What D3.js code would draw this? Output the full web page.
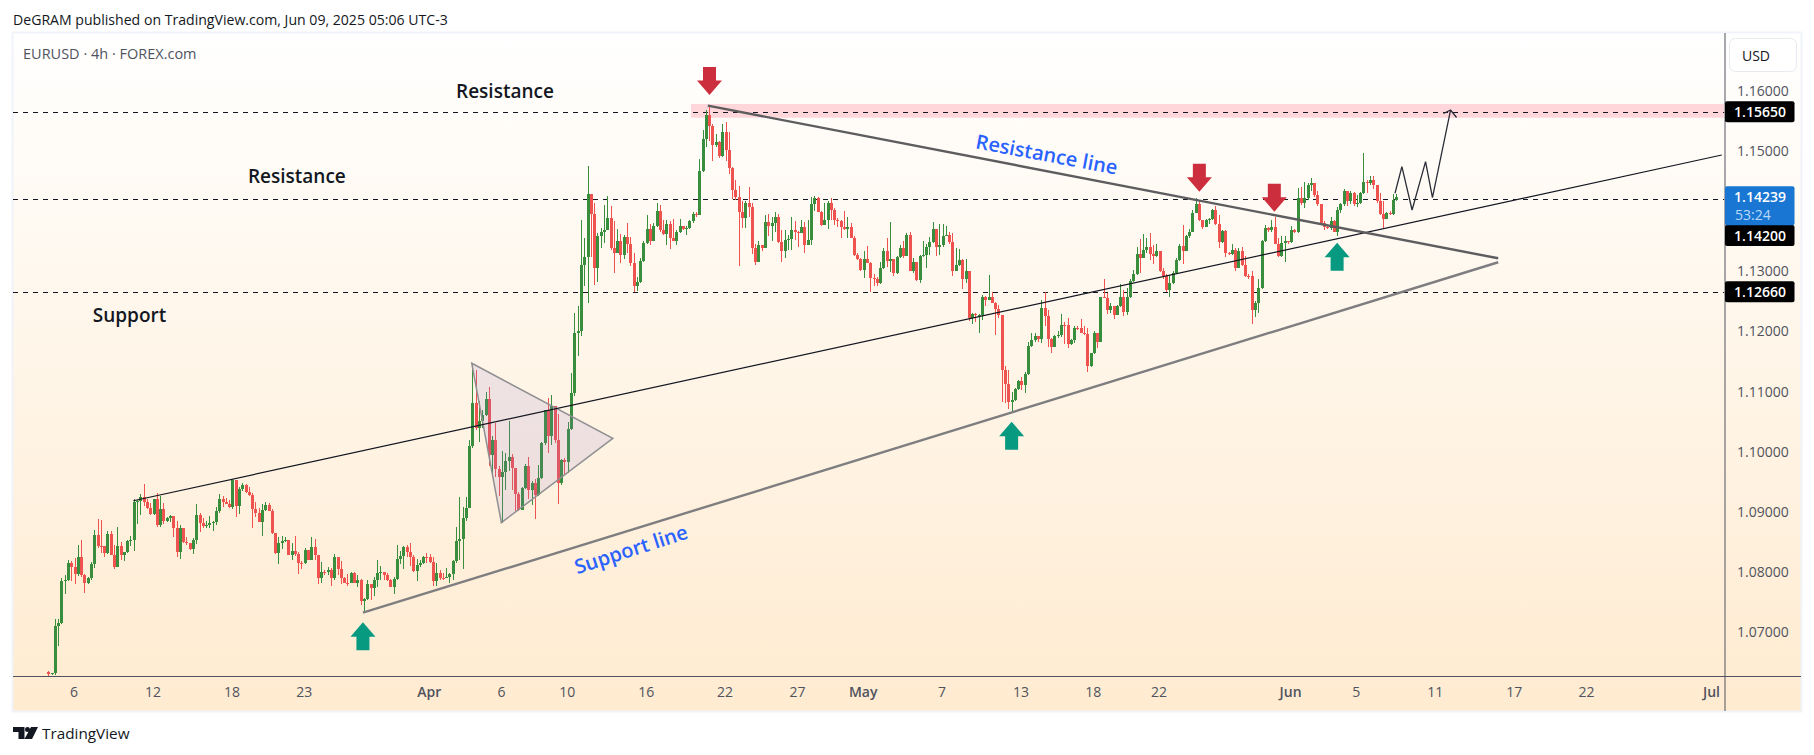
<!DOCTYPE html>
<html><head><meta charset="utf-8">
<script src="https://cdnjs.cloudflare.com/ajax/libs/d3/7.8.5/d3.min.js"></script>
<style>html,body{margin:0;padding:0;background:#fff}svg{display:block}</style>
</head><body><svg id="c" width="1814" height="755"></svg>
<script>
const closes=[1.0631,1.0632,1.0711,1.0715,1.0786,1.0788,1.0816,1.0809,1.0798,1.0825,1.0796,1.0783,1.0791,1.0814,1.0862,1.0844,1.0843,1.0832,1.0864,1.0829,1.0809,1.0844,1.0829,1.0833,1.0852,1.0854,1.0917,1.0919,1.0925,1.0917,1.0907,1.0897,1.0922,1.0878,1.0905,1.0886,1.0891,1.0894,1.0873,1.0833,1.0873,1.0850,1.0848,1.0839,1.0854,1.0895,1.0882,1.0877,1.0879,1.0882,1.0884,1.0902,1.0922,1.0917,1.0914,1.0908,1.0953,1.0910,1.0939,1.0945,1.0934,1.0928,1.0905,1.0899,1.0884,1.0904,1.0912,1.0901,
1.0865,1.0832,1.0849,1.0852,1.0854,1.0829,1.0836,1.0830,1.0816,1.0815,1.0837,1.0821,1.0842,1.0829,1.0791,1.0801,1.0800,1.0804,1.0790,1.0826,1.0806,1.0790,1.0783,1.0782,1.0799,1.0783,1.0788,1.0753,1.0756,1.0781,1.0774,1.0788,1.0799,1.0800,1.0796,1.0788,1.0776,1.0789,1.0822,1.0827,1.0842,1.0833,1.0826,1.0802,1.0812,1.0816,1.0826,1.0825,1.0817,1.0786,1.0799,1.0791,1.0790,1.0792,1.0797,1.0819,1.0852,1.0855,1.0891,1.0907,1.1010,1.1082,1.1040,1.1052,1.1062,1.1088,1.0995,1.1020,1.0971,1.0959,
1.0966,1.0985,1.0991,1.0973,1.0930,1.0904,1.0940,1.0977,1.0936,1.0948,1.0929,1.0957,1.1015,1.1069,1.1027,1.1077,1.1019,1.0948,1.0987,1.0983,1.1038,1.1098,1.1197,1.1201,1.1311,1.1324,1.1429,1.1396,1.1306,1.1359,1.1365,1.1369,1.1389,1.1338,1.1331,1.1351,1.1327,1.1357,1.1346,1.1314,1.1275,1.1283,1.1317,1.1347,1.1370,1.1351,1.1376,1.1400,1.1368,1.1362,1.1378,1.1356,1.1351,1.1365,1.1376,1.1370,1.1372,1.1384,1.1395,1.1394,1.1466,1.1519,1.1560,1.1542,1.1509,1.1515,1.1491,1.1531,1.1501,1.1471,
1.1435,1.1423,1.1398,1.1389,1.1413,1.1407,1.1339,1.1315,1.1344,1.1339,1.1382,1.1376,1.1381,1.1390,1.1348,1.1334,1.1352,1.1353,1.1368,1.1366,1.1364,1.1374,1.1343,1.1352,1.1412,1.1421,1.1399,1.1377,1.1386,1.1414,1.1402,1.1386,1.1383,1.1373,1.1371,1.1374,1.1356,1.1327,1.1321,1.1302,1.1321,1.1314,1.1289,1.1288,1.1281,1.1306,1.1334,1.1317,1.1320,1.1298,1.1323,1.1338,1.1326,1.1361,1.1301,1.1316,1.1286,1.1325,1.1327,1.1340,1.1348,1.1370,1.1341,1.1343,1.1359,1.1360,1.1348,1.1301,1.1310,1.1319,
1.1287,1.1300,1.1222,1.1229,1.1227,1.1228,1.1258,1.1252,1.1258,1.1248,1.1238,1.1227,1.1136,1.1113,1.1083,1.1086,1.1104,1.1118,1.1111,1.1130,1.1176,1.1186,1.1192,1.1187,1.1239,1.1225,1.1187,1.1175,1.1193,1.1194,1.1211,1.1210,1.1179,1.1186,1.1206,1.1205,1.1198,1.1196,1.1143,1.1164,1.1198,1.1182,1.1257,1.1256,1.1235,1.1242,1.1227,1.1242,1.1258,1.1233,1.1257,1.1284,1.1295,1.1328,1.1322,1.1335,1.1340,1.1329,1.1326,1.1334,1.1300,1.1293,1.1269,1.1280,1.1297,1.1319,1.1342,1.1334,1.1359,1.1366,
1.1397,1.1411,1.1385,1.1374,1.1385,1.1387,1.1401,1.1379,1.1348,1.1367,1.1330,1.1328,1.1336,1.1305,1.1333,1.1311,1.1293,1.1292,1.1235,1.1248,1.1272,1.1351,1.1372,1.1369,1.1373,1.1346,1.1325,1.1347,1.1350,1.1348,1.1369,1.1365,1.1422,1.1413,1.1421,1.1444,1.1447,1.1426,1.1411,1.1380,1.1373,1.1372,1.1384,1.1366,1.1401,1.1411,1.1434,1.1417,1.1430,1.1411,1.1413,1.1430,1.1448,1.1447,1.1452,1.1443,1.1416,1.1396,1.1387,1.1397,1.1396,1.1419,1.14239];
const highs=[1.0636,1.0632,1.0722,1.0722,1.0790,1.0796,1.0820,1.0819,1.0823,1.0845,1.0854,1.0797,1.0792,1.0817,1.0871,1.0888,1.0887,1.0844,1.0868,1.0869,1.0846,1.0875,1.0850,1.0834,1.0854,1.0861,1.0921,1.0920,1.0930,1.0947,1.0921,1.0915,1.0922,1.0931,1.0927,1.0915,1.0892,1.0895,1.0894,1.0885,1.0879,1.0873,1.0859,1.0848,1.0857,1.0914,1.0898,1.0891,1.0886,1.0894,1.0886,1.0909,1.0930,1.0927,1.0923,1.0920,1.0955,1.0953,1.0941,1.0948,1.0947,1.0942,1.0932,1.0916,1.0906,1.0914,1.0916,1.0915,
1.0905,1.0866,1.0858,1.0860,1.0858,1.0854,1.0849,1.0861,1.0833,1.0818,1.0841,1.0837,1.0858,1.0855,1.0829,1.0817,1.0804,1.0809,1.0807,1.0831,1.0826,1.0818,1.0793,1.0797,1.0800,1.0801,1.0796,1.0789,1.0757,1.0788,1.0781,1.0793,1.0821,1.0811,1.0800,1.0799,1.0789,1.0793,1.0846,1.0835,1.0843,1.0846,1.0848,1.0829,1.0822,1.0821,1.0827,1.0832,1.0831,1.0825,1.0816,1.0804,1.0799,1.0807,1.0799,1.0821,1.0875,1.0925,1.0908,1.0925,1.1020,1.1148,1.1136,1.1084,1.1070,1.1100,1.1108,1.1026,1.1048,1.0976,
1.1002,1.0998,1.1051,1.0996,1.0974,1.0933,1.0941,1.0980,1.0991,1.0952,1.0955,1.0979,1.1016,1.1070,1.1089,1.1095,1.1077,1.1063,1.0988,1.0990,1.1049,1.1131,1.1230,1.1243,1.1386,1.1355,1.1475,1.1429,1.1414,1.1364,1.1372,1.1410,1.1425,1.1409,1.1383,1.1370,1.1362,1.1360,1.1380,1.1357,1.1330,1.1291,1.1322,1.1350,1.1394,1.1379,1.1380,1.1414,1.1410,1.1386,1.1386,1.1383,1.1387,1.1368,1.1387,1.1373,1.1376,1.1386,1.1398,1.1398,1.1486,1.1534,1.1568,1.1576,1.1545,1.1528,1.1516,1.1545,1.1548,1.1531,
1.1474,1.1452,1.1442,1.1417,1.1417,1.1440,1.1414,1.1346,1.1350,1.1344,1.1394,1.1396,1.1390,1.1399,1.1396,1.1369,1.1368,1.1360,1.1390,1.1383,1.1367,1.1385,1.1382,1.1385,1.1423,1.1425,1.1423,1.1400,1.1414,1.1416,1.1421,1.1405,1.1388,1.1386,1.1400,1.1391,1.1380,1.1358,1.1330,1.1322,1.1333,1.1342,1.1316,1.1295,1.1290,1.1316,1.1338,1.1355,1.1382,1.1321,1.1326,1.1344,1.1350,1.1364,1.1365,1.1322,1.1316,1.1327,1.1351,1.1345,1.1357,1.1382,1.1371,1.1378,1.1378,1.1375,1.1366,1.1363,1.1338,1.1337,
1.1320,1.1320,1.1300,1.1230,1.1230,1.1229,1.1261,1.1259,1.1294,1.1266,1.1249,1.1244,1.1227,1.1142,1.1136,1.1100,1.1106,1.1119,1.1124,1.1133,1.1182,1.1198,1.1197,1.1193,1.1252,1.1266,1.1236,1.1189,1.1194,1.1200,1.1229,1.1215,1.1223,1.1187,1.1209,1.1209,1.1220,1.1209,1.1205,1.1165,1.1200,1.1198,1.1258,1.1288,1.1264,1.1247,1.1242,1.1244,1.1279,1.1269,1.1272,1.1287,1.1302,1.1341,1.1353,1.1362,1.1355,1.1363,1.1344,1.1345,1.1334,1.1305,1.1296,1.1294,1.1300,1.1322,1.1346,1.1377,1.1360,1.1371,
1.1402,1.1421,1.1419,1.1386,1.1387,1.1388,1.1403,1.1409,1.1394,1.1369,1.1368,1.1332,1.1345,1.1339,1.1339,1.1341,1.1326,1.1296,1.1300,1.1250,1.1287,1.1352,1.1377,1.1373,1.1386,1.1390,1.1355,1.1359,1.1359,1.1351,1.1376,1.1370,1.1438,1.1440,1.1449,1.1447,1.1455,1.1447,1.1433,1.1412,1.1383,1.1377,1.1391,1.1385,1.1407,1.1413,1.1436,1.1434,1.1433,1.1431,1.1427,1.1431,1.1496,1.1452,1.1458,1.1459,1.1441,1.1430,1.1416,1.1398,1.1400,1.1428,1.1428];
const lows=[1.0627,1.0629,1.0629,1.0677,1.0714,1.0764,1.0786,1.0785,1.0781,1.0794,1.0793,1.0766,1.0781,1.0787,1.0807,1.0840,1.0832,1.0825,1.0830,1.0829,1.0806,1.0809,1.0820,1.0818,1.0832,1.0844,1.0835,1.0880,1.0895,1.0910,1.0905,1.0895,1.0895,1.0876,1.0876,1.0881,1.0883,1.0884,1.0858,1.0825,1.0822,1.0848,1.0845,1.0837,1.0831,1.0847,1.0867,1.0874,1.0873,1.0873,1.0869,1.0879,1.0899,1.0909,1.0913,1.0906,1.0905,1.0892,1.0897,1.0935,1.0931,1.0927,1.0874,1.0892,1.0883,1.0861,1.0901,1.0901,
1.0864,1.0831,1.0814,1.0839,1.0851,1.0828,1.0821,1.0827,1.0798,1.0805,1.0813,1.0820,1.0820,1.0821,1.0781,1.0783,1.0796,1.0795,1.0778,1.0788,1.0796,1.0781,1.0782,1.0778,1.0782,1.0782,1.0776,1.0746,1.0733,1.0754,1.0754,1.0761,1.0776,1.0788,1.0788,1.0785,1.0775,1.0764,1.0788,1.0814,1.0805,1.0826,1.0811,1.0801,1.0785,1.0809,1.0813,1.0816,1.0815,1.0778,1.0778,1.0788,1.0788,1.0790,1.0782,1.0788,1.0816,1.0821,1.0805,1.0886,1.0907,1.1006,1.1037,1.1017,1.1040,1.1059,1.0977,1.0965,1.0959,1.0926,
1.0882,1.0936,1.0969,1.0936,1.0901,1.0901,1.0904,1.0938,1.0922,1.0912,1.0889,1.0926,1.0955,1.1012,1.0999,1.1011,1.1015,1.0914,1.0945,1.0962,1.0965,1.1037,1.1093,1.1160,1.1192,1.1276,1.1248,1.1324,1.1278,1.1283,1.1339,1.1347,1.1368,1.1336,1.1298,1.1330,1.1314,1.1320,1.1330,1.1309,1.1265,1.1268,1.1281,1.1316,1.1346,1.1343,1.1350,1.1373,1.1366,1.1361,1.1344,1.1337,1.1350,1.1343,1.1363,1.1369,1.1361,1.1370,1.1381,1.1391,1.1394,1.1465,1.1507,1.1517,1.1484,1.1507,1.1488,1.1490,1.1484,1.1462,
1.1420,1.1419,1.1309,1.1372,1.1372,1.1390,1.1329,1.1311,1.1315,1.1333,1.1339,1.1359,1.1350,1.1366,1.1347,1.1316,1.1322,1.1336,1.1335,1.1352,1.1341,1.1363,1.1331,1.1343,1.1344,1.1400,1.1399,1.1376,1.1377,1.1371,1.1386,1.1377,1.1374,1.1356,1.1369,1.1355,1.1355,1.1326,1.1318,1.1300,1.1289,1.1313,1.1265,1.1276,1.1276,1.1279,1.1304,1.1307,1.1299,1.1292,1.1296,1.1322,1.1322,1.1326,1.1300,1.1298,1.1284,1.1280,1.1323,1.1306,1.1327,1.1347,1.1326,1.1327,1.1341,1.1358,1.1346,1.1292,1.1301,1.1309,
1.1271,1.1280,1.1218,1.1213,1.1215,1.1198,1.1219,1.1242,1.1252,1.1247,1.1195,1.1223,1.1083,1.1082,1.1072,1.1065,1.1085,1.1102,1.1102,1.1098,1.1128,1.1175,1.1183,1.1182,1.1181,1.1209,1.1175,1.1164,1.1174,1.1190,1.1191,1.1179,1.1173,1.1178,1.1181,1.1202,1.1197,1.1195,1.1132,1.1141,1.1162,1.1173,1.1182,1.1256,1.1229,1.1230,1.1220,1.1227,1.1240,1.1225,1.1227,1.1255,1.1282,1.1294,1.1297,1.1322,1.1330,1.1318,1.1312,1.1324,1.1299,1.1288,1.1266,1.1257,1.1279,1.1295,1.1317,1.1312,1.1333,1.1355,
1.1365,1.1397,1.1383,1.1371,1.1373,1.1379,1.1385,1.1377,1.1338,1.1347,1.1324,1.1327,1.1327,1.1300,1.1305,1.1309,1.1291,1.1287,1.1212,1.1224,1.1231,1.1270,1.1349,1.1365,1.1365,1.1345,1.1324,1.1324,1.1315,1.1346,1.1347,1.1363,1.1363,1.1410,1.1405,1.1418,1.1433,1.1424,1.1408,1.1378,1.1368,1.1370,1.1369,1.1365,1.1359,1.1397,1.1408,1.1408,1.1411,1.1409,1.1407,1.1412,1.1429,1.1430,1.1444,1.1436,1.1413,1.1394,1.1372,1.1387,1.1394,1.1394,1.1416];
const firstOpen=1.0634;
const opens=closes.map((c,i)=>i?closes[i-1]:firstOpen);
const priceTicks=[1.16,1.15,1.13,1.12,1.11,1.10,1.09,1.08,1.07];
const timeTickBars=[8,32,56,78,116,138,158,182,206,228,248,272,296,318,338,378,398,422,446,468,506];
const timeTickLabels=["6","12","18","23","Apr","6","10","16","22","27","May","7","13","18","22","Jun","5","11","17","22","Jul"];
const monthLabels=["Apr","May","Jun","Jul"];
const levels=[1.1565,1.1420,1.1266];
const zoneBars=[195.5];
const zonePrices=[1.15779,1.15551];
const resistanceLine=[[200.6,1.15751],[441,1.13216]];
const supportLine=[[95.7,1.07329],[441,1.1315]];
const midLine=[[25.85,1.09189],[509,1.14932]];
const triangle=[[128.8,1.11472],[171.7,1.10226],[137.8,1.08824]];
const projection=[[409.6,1.14296],[411.7,1.14738],[414.8,1.14018],[418.9,1.14821],[421,1.14223],[426.5,1.15679]];
const downArrows=[[201.1,1.15929],[350.1,1.14322],[372.9,1.1399]];
const upArrows=[[95.7,1.0717],[293,1.10502],[392,1.13475]];
const blackNotes=[["Resistance",138.9,1.15995],["Resistance",75.6,1.14575],["Support",24.7,1.12279]];
const blueNotes=[["Resistance line",303.7,1.14948,10.6],["Support line",177.2,1.08387,-18]];
// the 1.14200 badge sits displaced below the last-price badge on the price axis
const priceBadges=[["1.15650",1.1565],["1.14200",1.13595],["1.12660",1.1266]];
const lastPrice=1.14239, countdown="53:24";

const svg=d3.select("#c");
const L=13,R=1801,T=33,B=711,PR=1724.5,PB=676;
const lastIdx=closes.length-1;
const x=d3.scaleLinear([0,lastIdx],[48.3,1396.3]);
const y=d3.scaleLinear([1.07,1.16],[632.5,90.7]);
const FONT="'Open Sans',sans-serif";

const defs=svg.append("defs");
const g=defs.append("linearGradient").attr("id","bg").attr("x1",0).attr("x2",0).attr("y1",0).attr("y2",1);
g.append("stop").attr("offset",0).attr("stop-color","#ffffff");
g.append("stop").attr("offset",1).attr("stop-color","#ffebd0");
defs.append("clipPath").attr("id","pane").append("rect").attr("x",L).attr("y",T).attr("width",PR-L).attr("height",PB-T);

svg.append("rect").attr("x",L-0.5).attr("y",T-0.5).attr("width",R-L+1).attr("height",B-T+1).attr("fill","url(#bg)").attr("stroke","#f0f3fa").attr("stroke-width",2);

svg.append("text").text("DeGRAM published on TradingView.com, Jun 09, 2025 05:06 UTC-3").attr("x",13).attr("y",25).attr("font-family",FONT).attr("font-size",14.1).attr("fill","#131722");
svg.append("text").text("EURUSD · 4h · FOREX.com").attr("x",23).attr("y",59).attr("font-family",FONT).attr("font-size",14.5).attr("fill","#50535e");

const pane=svg.append("g").attr("clip-path","url(#pane)");
pane.append("rect").attr("x",x(zoneBars[0])).attr("y",y(zonePrices[0])).attr("width",PR-x(zoneBars[0])).attr("height",y(zonePrices[1])-y(zonePrices[0])).attr("fill","#ffd6d9");
pane.selectAll("line.lv").data(levels).join("line").attr("class","lv").attr("x1",L).attr("x2",PR).attr("y1",d=>Math.round(y(d))+.5).attr("y2",d=>Math.round(y(d))+.5).attr("stroke","#131722").attr("stroke-dasharray","5 5").attr("stroke-width",1);

const bars=closes.map((c,i)=>({i,o:opens[i],c,h:highs[i],l:lows[i]}));
const col=d=>d.c>d.o?"#388e3c":"#ef5350";
pane.selectAll("rect.w").data(bars).join("rect").attr("class","w").attr("x",d=>Math.round(x(d.i))).attr("width",1)
 .attr("y",d=>Math.round(y(d.h))).attr("height",d=>Math.max(1,Math.round(y(d.l))-Math.round(y(d.h)))).attr("fill",col);
pane.selectAll("rect.b").data(bars).join("rect").attr("class","b").attr("x",d=>Math.round(x(d.i))-1).attr("width",3)
 .attr("y",d=>Math.round(y(Math.max(d.o,d.c)))).attr("height",d=>Math.max(1,Math.round(y(Math.min(d.o,d.c)))-Math.round(y(Math.max(d.o,d.c))))).attr("fill",col);

const pt=p=>[x(p[0]),y(p[1])];
pane.append("path").attr("d",d3.line()(triangle.map(pt))+"Z").attr("fill","#8d7bd0").attr("fill-opacity",.15).attr("stroke","#8f8f92").attr("stroke-width",1.5);
pane.append("path").attr("d",d3.line()(midLine.map(pt))).attr("fill","none").attr("stroke","#131722").attr("stroke-width",1.2);
pane.append("path").attr("d",d3.line()(resistanceLine.map(pt))).attr("fill","none").attr("stroke","#5d5d60").attr("stroke-width",2.4);
pane.append("path").attr("d",d3.line()(supportLine.map(pt))).attr("fill","none").attr("stroke","#7e7e80").attr("stroke-width",2.4);
pane.append("path").attr("d",d3.line()(projection.map(pt))).attr("fill","none").attr("stroke","#2a2e39").attr("stroke-width",1.3);
const tip=pt(projection[projection.length-1]);
pane.append("path").attr("d",`M${tip[0]-7},${tip[1]+3.5}L${tip[0]},${tip[1]}L${tip[0]+6},${tip[1]+7.5}`).attr("fill","none").attr("stroke","#2a2e39").attr("stroke-width",1.3);

const arrowShape=[[0,0],[12.5,-14.5],[6.5,-14.5],[6.5,-28],[-6.5,-28],[-6.5,-14.5],[-12.5,-14.5]];
pane.selectAll("path.dn").data(downArrows).join("path").attr("class","dn")
 .attr("d",d=>d3.line()(arrowShape.map(s=>[x(d[0])+s[0],y(d[1])+s[1]]))+"Z").attr("fill","#cc2e3d");
pane.selectAll("path.up").data(upArrows).join("path").attr("class","up")
 .attr("d",d=>d3.line()(arrowShape.map(s=>[x(d[0])+s[0],y(d[1])-s[1]]))+"Z").attr("fill","#089981");

pane.selectAll("text.n").data(blackNotes).join("text").attr("class","n").text(d=>d[0]).attr("x",d=>x(d[1])).attr("y",d=>y(d[2])).attr("text-anchor","middle").attr("dominant-baseline","central").attr("font-family",FONT).attr("font-size",19).attr("font-weight",600).attr("fill","#131722");
pane.selectAll("text.bn").data(blueNotes).join("text").attr("class","bn").text(d=>d[0]).attr("transform",d=>`translate(${x(d[1])},${y(d[2])}) rotate(${d[3]})`).attr("text-anchor","middle").attr("dominant-baseline","central").attr("font-family",FONT).attr("font-size",20).attr("font-weight",600).attr("fill","#2962ff");

// axes
const ya=svg.append("g").attr("transform",`translate(${PR},0)`).call(d3.axisRight(y).tickValues(priceTicks).tickSize(0).tickPadding(12.5).tickFormat(d3.format(".5f")));
ya.select(".domain").remove();
ya.selectAll("text").attr("font-family",FONT).attr("font-size",14).attr("fill","#50535e");
const xa=svg.append("g").attr("transform",`translate(-1,${PB})`).call(d3.axisBottom(x).tickValues(timeTickBars).tickSize(0).tickPadding(11).tickFormat((d,i)=>timeTickLabels[i]));
xa.select(".domain").remove();
xa.selectAll("text").attr("font-family",FONT).attr("font-size",14).attr("fill","#50535e").attr("font-weight",(d,i)=>monthLabels.includes(timeTickLabels[i])?600:400);

svg.append("line").attr("x1",L).attr("x2",R).attr("y1",PB+.5).attr("y2",PB+.5).attr("stroke","#50535e");
svg.append("line").attr("x1",PR+.5).attr("x2",PR+.5).attr("y1",T).attr("y2",B).attr("stroke","#50535e");

// price badges
const bd=svg.append("g");
const bx=PR+.5,bw=69.5;
bd.selectAll("rect").data(priceBadges).join("rect").attr("x",bx).attr("width",bw).attr("height",21).attr("y",d=>y(d[1])-10.5).attr("rx",2).attr("fill","#000");
bd.selectAll("text").data(priceBadges).join("text").text(d=>d[0]).attr("x",bx+35).attr("y",d=>y(d[1])).attr("text-anchor","middle").attr("dominant-baseline","central").attr("font-family",FONT).attr("font-size",14).attr("font-weight",600).attr("fill","#fff");
svg.append("rect").attr("x",bx).attr("y",y(lastPrice)-10.5).attr("width",bw).attr("height",39).attr("rx",2).attr("fill","#1976d2");
svg.append("text").text(d3.format(".5f")(lastPrice)).attr("x",bx+35).attr("y",y(lastPrice)).attr("text-anchor","middle").attr("dominant-baseline","central").attr("font-family",FONT).attr("font-size",14).attr("font-weight",600).attr("fill","#fff");
svg.append("text").text(countdown).attr("x",bx+10).attr("y",y(lastPrice)+18).attr("dominant-baseline","central").attr("font-family",FONT).attr("font-size",14).attr("fill","#bbd9f7");

// USD
svg.append("rect").attr("x",1729.5).attr("y",38.5).attr("width",67).attr("height",33).attr("rx",6).attr("fill","#fff").attr("stroke","#e8eaf0");
svg.append("text").text("USD").attr("x",1756).attr("y",55).attr("text-anchor","middle").attr("dominant-baseline","central").attr("font-family",FONT).attr("font-size",14).attr("fill","#131722");

// footer
svg.append("path").attr("d","M13 727H24.5V739H18.5V732H13Z M31 727H38L32 739H24.5Z").attr("fill","#131722");
svg.append("circle").attr("cx",27.5).attr("cy",729.5).attr("r",2.5).attr("fill","#131722");
svg.append("text").text("TradingView").attr("x",42).attr("y",739).attr("font-family",FONT).attr("font-size",15.3).attr("fill","#131722");
</script></body></html>
